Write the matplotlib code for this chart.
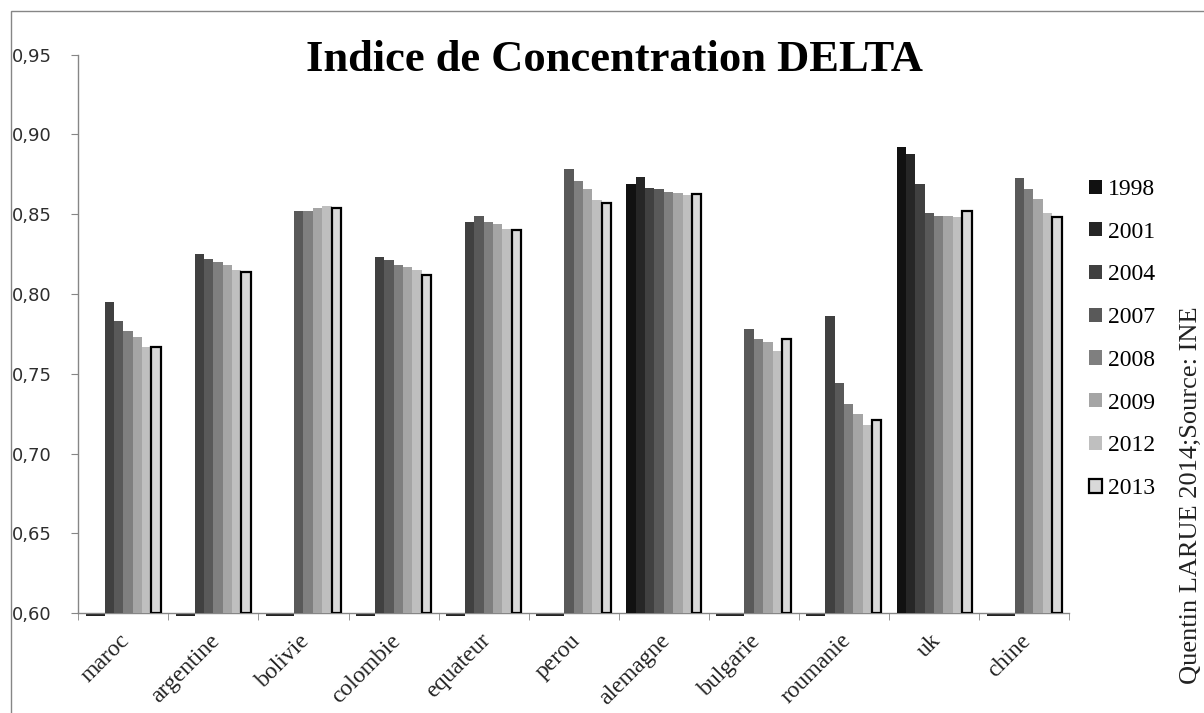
import numpy as np
import matplotlib
matplotlib.use("Agg")
import matplotlib.pyplot as plt
import matplotlib.transforms as mtransforms
from matplotlib.patches import Rectangle

nan = np.nan

# Données (nan = pas de valeur)
pays = ['maroc', 'argentine', 'bolivie', 'colombie', 'equateur', 'perou',
        'alemagne', 'bulgarie', 'roumanie', 'uk', 'chine']
annees = ['1998', '2001', '2004', '2007', '2008', '2009', '2012', '2013']

v1998 = [nan, nan, nan, nan, nan, nan, 0.869, nan, nan, 0.892, nan]
v2001 = [nan, nan, nan, nan, nan, nan, 0.8735, nan, nan, 0.888, nan]
v2004 = [0.795, 0.825, nan, 0.823, 0.845, nan, 0.8665, nan, 0.786, 0.869, nan]
v2007 = [0.783, 0.822, 0.852, 0.821, 0.849, 0.878, 0.8655, 0.778, 0.744, 0.851, 0.8725]
v2008 = [0.777, 0.820, 0.852, 0.818, 0.845, 0.871, 0.864, 0.772, 0.731, 0.849, 0.8655]
v2009 = [0.773, 0.818, 0.854, 0.817, 0.844, 0.866, 0.863, 0.770, 0.725, 0.849, 0.8595]
v2012 = [0.767, 0.815, 0.855, 0.815, 0.841, 0.859, 0.862, 0.764, 0.718, 0.848, 0.851]
v2013 = [0.767, 0.814, 0.854, 0.812, 0.840, 0.857, 0.8625, 0.772, 0.721, 0.852, 0.848]

series = [v1998, v2001, v2004, v2007, v2008, v2009, v2012, v2013]
couleurs = ['#111111', '#262626', '#404040', '#595959',
            '#7f7f7f', '#a5a5a5', '#bfbfbf', '#d9d9d9']

y_min, y_max = 0.60, 0.95
gris = '#868686'

fig = plt.figure(figsize=(12.04, 7.13), dpi=100)
ax = fig.add_axes([0.065, 0.1398, 0.823, 0.7837])

x = np.arange(len(pays))
w = 0.104
gap = (1 - w * len(annees)) / 2

for i, (vals, c, an) in enumerate(zip(series, couleurs, annees)):
    vals = np.array(vals, dtype=float)
    pos = x - 0.5 + gap + (i + 0.5) * w
    ok = ~np.isnan(vals)
    if an == '2013':
        ax.bar(pos[ok], vals[ok] - y_min, w, bottom=y_min, color=c,
               edgecolor='black', linewidth=1.6, label=an, zorder=3)
    else:
        ax.bar(pos[ok], vals[ok] - y_min, w, bottom=y_min, color=c,
               linewidth=0, label=an, zorder=3)
    # valeurs absentes : petit trait sous l'axe
    if (~ok).any():
        ax.bar(pos[~ok], -0.0014, w, bottom=y_min, color='#222222',
               linewidth=0, clip_on=False, zorder=2)

ax.set_xlim(-0.5, len(pays) - 0.5)
ax.set_ylim(y_min, y_max)

yt = np.arange(0.60, 0.951, 0.05)
ax.set_yticks(yt)
ax.set_yticklabels([('%.2f' % t).replace('.', ',') for t in yt])
ax.tick_params(axis='y', direction='out', length=5, color=gris, pad=14,
               labelsize=13, labelcolor='#2e2e2e')

ax.set_xticks(x)
ax.set_xticklabels(pays, rotation=45, ha='right', va='top',
                   rotation_mode='anchor', fontsize=17,
                   family='Liberation Serif', color='#222222')
ax.tick_params(axis='x', length=0, pad=12)
decal = mtransforms.ScaledTranslation(-4 / 100, 0, fig.dpi_scale_trans)
for lab in ax.get_xticklabels():
    lab.set_transform(lab.get_transform() + decal)
ax.set_xticks(np.arange(-0.5, len(pays)), minor=True)
ax.tick_params(axis='x', which='minor', direction='out', length=5, color=gris)

for s in ['top', 'right']:
    ax.spines[s].set_visible(False)
for s in ['left', 'bottom']:
    ax.spines[s].set_color(gris)
    ax.spines[s].set_linewidth(1)

fig.text(0.51, 0.916, 'Indice de Concentration DELTA', ha='center', va='center',
         fontsize=32, fontweight='bold', family='Liberation Serif')

leg = fig.legend(loc='center left', bbox_to_anchor=(0.897, 0.5245), frameon=False,
                 prop={'family': 'Liberation Serif', 'size': 17},
                 handlelength=0.55, handleheight=0.55, handletextpad=0.25,
                 labelspacing=0.92, borderaxespad=0)

fig.text(0.989, 0.306, 'Quentin LARUE 2014;Source: INE', rotation=90,
         ha='center', va='center', fontsize=19, family='Liberation Serif',
         color='#222222')

# cadre du graphique
fig.add_artist(Rectangle((11 / 1204, -0.05), 1.1, (713 - 11) / 713 + 0.05,
                         transform=fig.transFigure, fill=False,
                         edgecolor=gris, linewidth=1))

fig.savefig('out.png', dpi=100)
